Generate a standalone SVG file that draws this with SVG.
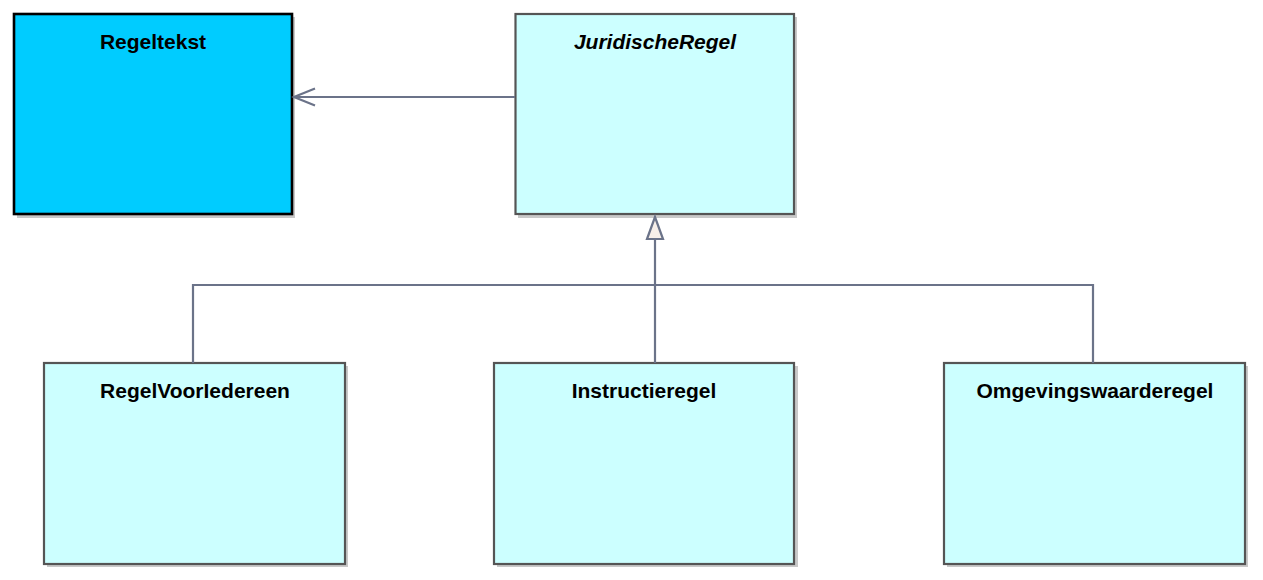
<svg xmlns="http://www.w3.org/2000/svg" width="1263" height="580" viewBox="0 0 1263 580">
<style>
.shadow{fill:#c9c9c9;}
.cls{fill:#ccffff;stroke:#555555;stroke-width:2.2;}
.lbl{font-family:"Liberation Sans",Arial,sans-serif;font-weight:bold;font-size:21px;fill:#000;text-anchor:middle;}
.conn{fill:none;stroke:#6b7389;stroke-width:2.2;}
</style>
<rect width="1263" height="580" fill="#ffffff"/>
<g id="Regeltekst">
<rect class="shadow" x="17" y="17" width="278" height="201"/>
<rect x="14" y="14" width="278" height="200" fill="#00ccff" stroke="#000000" stroke-width="2.6"/>
<text class="lbl" x="153" y="49">Regeltekst</text>
</g>
<g id="JuridischeRegel">
<rect class="shadow" x="518" y="17" width="279" height="201"/>
<rect class="cls" x="515.5" y="14" width="278.5" height="200"/>
<text class="lbl" x="655" y="49" font-style="italic">JuridischeRegel</text>
</g>
<g id="RegelVoorIedereen">
<rect class="shadow" x="47" y="366" width="301" height="201"/>
<rect class="cls" x="44" y="363" width="301" height="201"/>
<text class="lbl" x="195" y="398">RegelVoorIedereen</text>
</g>
<g id="Instructieregel">
<rect class="shadow" x="497" y="366" width="301" height="201"/>
<rect class="cls" x="494" y="363" width="300" height="201"/>
<text class="lbl" x="644" y="398">Instructieregel</text>
</g>
<g id="Omgevingswaarderegel">
<rect class="shadow" x="947" y="366" width="301" height="201"/>
<rect class="cls" x="944" y="363" width="301" height="201"/>
<text class="lbl" x="1095" y="398">Omgevingswaarderegel</text>
</g>
<g id="connectors">
<line class="conn" x1="515" y1="97" x2="294" y2="97"/>
<polyline class="conn" points="315,88.5 294,97 315,105.5"/>
<polyline class="conn" points="193,363 193,285 1093,285 1093,363"/>
<line class="conn" x1="655" y1="363" x2="655" y2="239"/>
<polygon points="655,217 647,239 663,239" fill="#f7efe9" stroke="#6b7389" stroke-width="2.2" stroke-linejoin="miter"/>
</g>
</svg>
